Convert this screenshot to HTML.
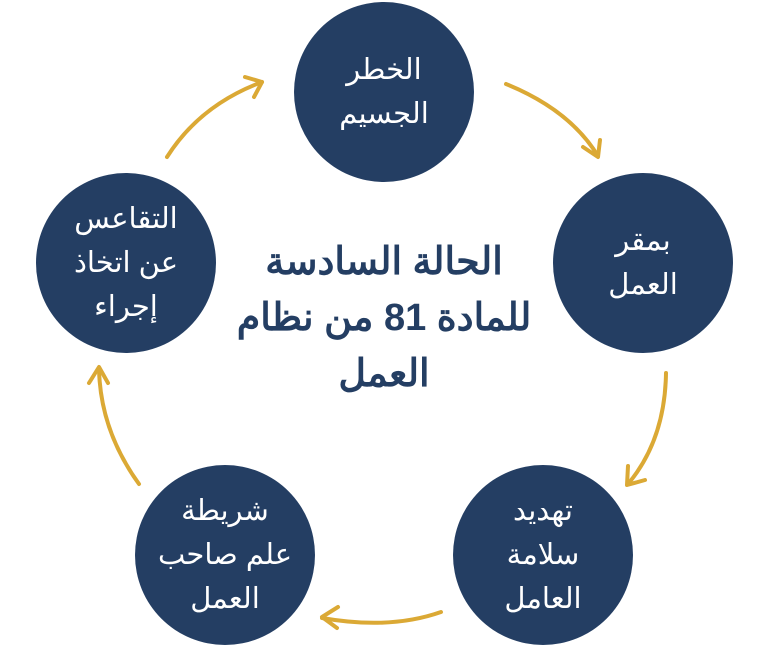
<!DOCTYPE html>
<html><head><meta charset="utf-8"><style>
body{margin:0;width:768px;height:644px;background:#fff;overflow:hidden;position:relative;font-family:"Liberation Sans","Noto Sans CJK SC",sans-serif}
.c{position:absolute;width:180px;height:180px;border-radius:50%;background:#243e63;color:#fff;display:flex;align-items:center;justify-content:center;text-align:center;font-size:29px;line-height:44px;direction:rtl}
.t{position:absolute;left:214px;top:234px;width:340px;text-align:center;color:#243e63;font-weight:bold;font-size:38px;line-height:56px;direction:rtl}
svg{position:absolute;left:0;top:0}
</style></head><body>
<svg width="768" height="644" fill="none" stroke="#dba935" stroke-width="4" stroke-linecap="round" stroke-linejoin="round">
<path d="M506 84 Q570 110 598 156"/><path d="M583 147 L598 157 L600 140"/>
<path d="M666 373 Q665 440 628 484"/><path d="M628 466 L627 485 L645 480"/>
<path d="M441 612 Q390 630 322 618"/><path d="M338 607 L322 617 L337 628"/>
<path d="M139 484 Q100 430 99 368"/><path d="M89 383 L99 367 L108 383"/>
<path d="M167 157 Q200 105 262 82"/><path d="M245 77 L262 82 L254 97"/>
</svg>
<div class="c" style="left:294px;top:2px">الخطر<br>الجسيم</div>
<div class="c" style="left:553px;top:173px">بمقر<br>العمل</div>
<div class="c" style="left:453px;top:465px">تهديد<br>سلامة<br>العامل</div>
<div class="c" style="left:135px;top:465px">شريطة<br>علم صاحب<br>العمل</div>
<div class="c" style="left:36px;top:173px">التقاعس<br>عن اتخاذ<br>إجراء</div>
<div class="t">الحالة السادسة<br>للمادة 81 من نظام<br>العمل</div>
</body></html>
